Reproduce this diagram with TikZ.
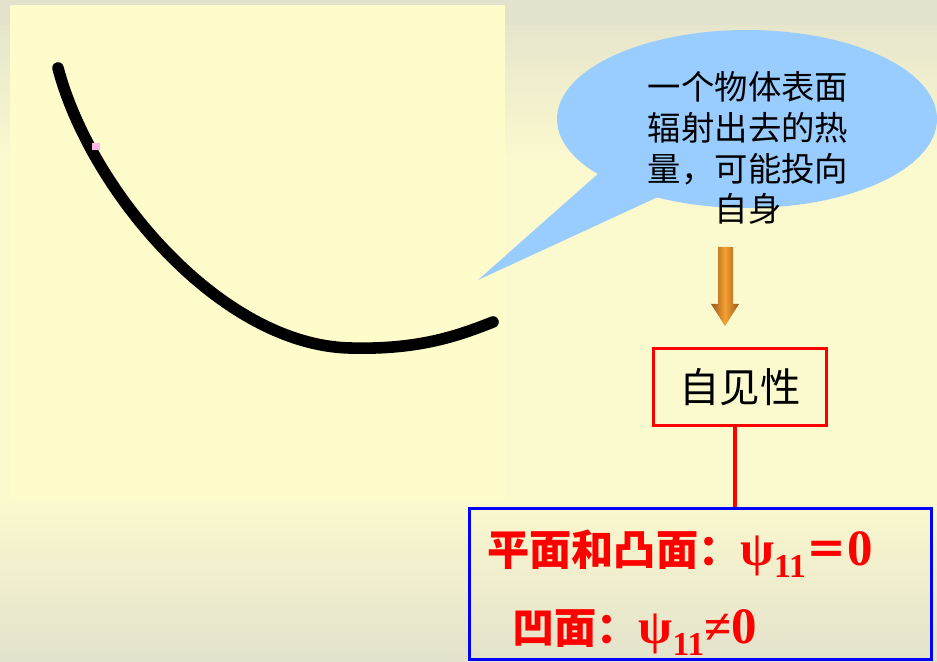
\documentclass[tikz,border=0pt]{standalone}
\usepackage{fontspec}
\setmainfont{Liberation Serif}
\newfontfamily\cjk{Noto Sans CJK SC}
\newfontfamily\tnr{Liberation Serif}
\definecolor{bggrey}{HTML}{E3E2CC}
\definecolor{bgyel}{HTML}{FBF9CE}
\definecolor{paper}{HTML}{FEFCCB}
\definecolor{bubble}{HTML}{99CCFF}
\definecolor{arrbrown}{HTML}{9A5A1E}
\definecolor{arrorange}{HTML}{F5A030}
\tikzset{
  curveline/.style={line width=6.6pt, line cap=round, line join=round, black},
  bubtext/.style={font=\cjk\fontsize{19}{23.3}\selectfont, align=center, text=black, inner sep=0pt},
  redbox/.style={draw=red, line width=1.8pt, minimum width=3.46cm, minimum height=1.54cm, inner sep=0pt, font=\cjk\fontsize{23}{27}\selectfont},
  bluebox/.style={draw=blue, line width=1.8pt, minimum width=9.24cm, minimum height=3.02cm, inner sep=0pt},
  redtext/.style={text=red, anchor=base west, inner sep=0pt, font=\cjk\bfseries\fontsize{24}{28}\selectfont},
  redlink/.style={draw=red, line width=1.8pt}
}
\newcommand{\psisub}{{\tnr\bfseries\fontsize{28}{30}\selectfont ψ}\raisebox{-0.3em}{\tnr\bfseries\fontsize{19}{22}\selectfont 11}}
\newcommand{\bigzero}{{\tnr\bfseries\fontsize{29}{30}\selectfont 0}}
\begin{document}
\begin{tikzpicture}[x=0.02cm,y=-0.02cm]
\useasboundingbox (0,0) rectangle (937,662);
% background
\fill[bgyel] (0,0) rectangle (937,662);
\shade[top color=bggrey, bottom color=bgyel] (0,0) rectangle (937,160);
\fill[bggrey] (0,0) rectangle (937,25);
\shade[top color=bgyel, bottom color=bggrey] (0,500) rectangle (937,662);
\fill[paper] (10,5) rectangle (505,499);
% curved surface
\draw[curveline] (58,68) .. controls (90,190) and (220,345) .. (350,348)
                 .. controls (420,350) and (460,335) .. (493,322);
\fill[pink!70!magenta!60] (92,143) rectangle (100,150);
% callout bubble
\fill[bubble] (600,172) -- (478,280) -- (660,196) -- (690,160) -- cycle;
\fill[bubble] (747,119) ellipse [x radius=3.8cm, y radius=1.78cm];
\node[bubtext] (bt) at (748,148) {一个物体表面\\辐射出去的热\\量，可能投向\\自身};
% down arrow
\shade[left color=arrbrown, right color=arrbrown, middle color=arrorange]
  (718,247) -- (733,247) -- (733,304) -- (739,304) -- (725,326) -- (711,304) -- (718,304) -- cycle;
% self-view box
\node[redbox] (sv) at (740,387) {自见性};
% result box
\node[bluebox] (res) at (700.5,584) {};
\coordinate (lx) at (735,0);
\draw[redlink] (sv.south -| lx) -- (res.north -| lx);
\node[redtext] (l1) at (487,565) {平面和凸面：\psisub{\cjk\bfseries ＝}\bigzero};
\node[redtext] (l2) at (512,643) {凹面：\psisub{\tnr\bfseries\fontsize{28}{30}\selectfont ≠}\bigzero};
\end{tikzpicture}
\end{document}
